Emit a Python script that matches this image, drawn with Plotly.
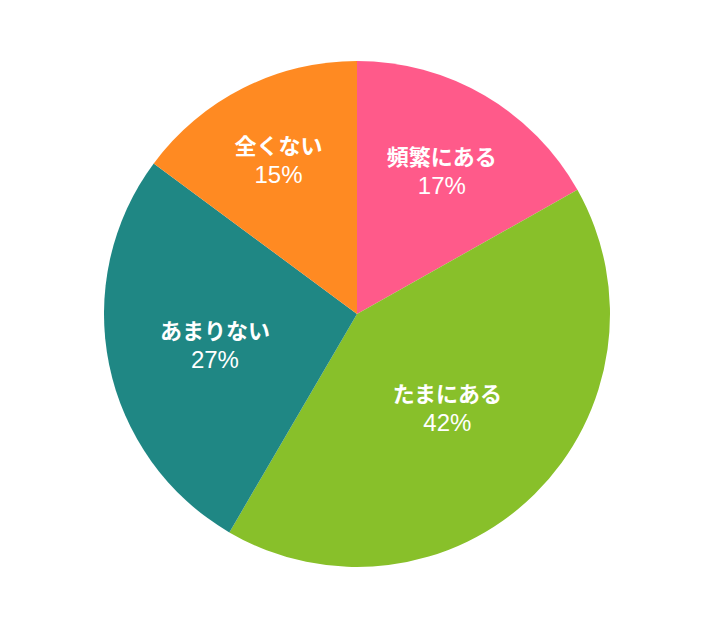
import plotly.graph_objects as go

labels = ["頻繁にある", "たまにある", "あまりない", "全くない"]
values = [17, 42, 27, 15]
colors = ["#FF5A8A", "#88C02A", "#1F8784", "#FF8A22"]

pie = go.Pie(
    labels=labels,
    values=values,
    text=[f"{v}%" for v in values],
    texttemplate="<b>%{label}</b><br><span style='font-family:Liberation Sans, Arial;font-size:24px'>%{text}</span>",
    textinfo="text",
    textposition="inside",
    insidetextorientation="horizontal",
    textfont=dict(family="Noto Sans CJK JP, Liberation Sans, Arial", size=22, color="white"),
    marker=dict(colors=colors, line=dict(width=0)),
    sort=False,
    direction="clockwise",
    rotation=0,
    showlegend=False,
)

fig = go.Figure(data=[pie])
fig.update_layout(
    width=710,
    height=630,
    margin=dict(l=0, r=12, t=53, b=71),
    paper_bgcolor="white",
    plot_bgcolor="white",
)

fig.write_html("out.html")
